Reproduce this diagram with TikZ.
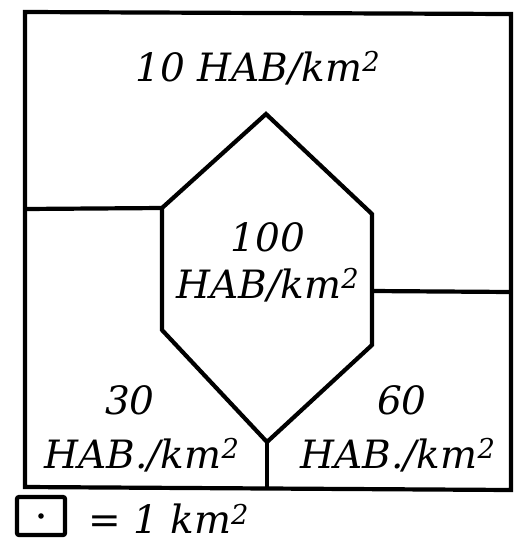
\documentclass[tikz,border=0pt]{standalone}
\usepackage{fontspec}
\setmainfont{DejaVu Serif}
\begin{document}
\begin{tikzpicture}[x=1pt,y=-1pt,
  bord/.style={line width=4.2pt,line join=miter},
  lbl/.style={font=\fontsize{39}{44}\selectfont\itshape,inner sep=0pt,align=center}]
\useasboundingbox (0,0) rectangle (516,542);
% outer frame
\coordinate (TL) at (25,12);
\coordinate (TR) at (511,14);
\coordinate (BR) at (511,490);
\coordinate (BL) at (25,487);
\draw[bord] (TL) -- (TR) -- (BR) -- (BL) -- cycle;
% hexagon
\coordinate (Ht) at (266,114);
\coordinate (Hur) at (372,214);
\coordinate (Hlr) at (372,345);
\coordinate (Hb) at (267,442);
\coordinate (Hll) at (162,330);
\coordinate (Hul) at (162,208);
\draw[bord] (Ht) -- (Hur) -- (Hlr) -- (Hb) -- (Hll) -- (Hul) -- cycle;
% dividing lines
\coordinate (Lw) at (25,209);
\coordinate (Re) at (511,292);
\coordinate (Rh) at (372,291);
\coordinate (Bb) at (267,489);
\draw[bord] (Lw) -- (Hul);
\draw[bord] (Rh) -- (Re);
\draw[bord] (Hb) -- (Bb);
% labels
\node[lbl] (t10) at (258,68) {10 HAB/km\textsuperscript{2}};
\node[lbl] (t100) at (268,237) {100};
\node[lbl] (h100) at (268,285) {HAB/km\textsuperscript{2}};
\node[lbl] (t30) at (130,400) {30};
\node[lbl] (h30) at (142,455) {HAB./km\textsuperscript{2}};
\node[lbl] (t60) at (402,400) {60};
\node[lbl] (h60) at (398,455) {HAB./km\textsuperscript{2}};
% legend
\node[draw,line width=4.2pt,minimum width=48pt,minimum height=38pt,inner sep=0pt,rounded corners=2pt] (sq) at (41,516) {};
\fill (sq.center) circle (2.8pt);
\node[lbl,anchor=west] (leg) at (88,519) {= 1 km\textsuperscript{2}};
\end{tikzpicture}
\end{document}
